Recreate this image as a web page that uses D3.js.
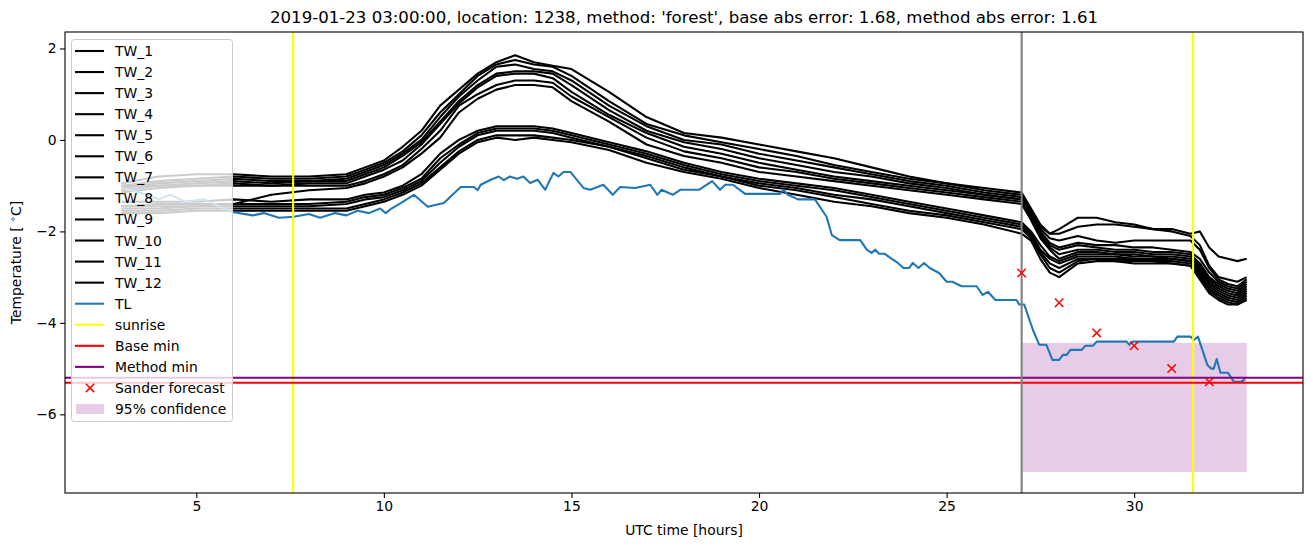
<!DOCTYPE html>
<html>
<head>
<meta charset="utf-8">
<script src="https://cdn.jsdelivr.net/npm/d3@7"></script>
<style>
  body { margin: 0; background: #fff; }
  text { font-family: "DejaVu Sans", sans-serif; }
</style>
</head>
<body>
<svg id="chart" width="1313" height="547"></svg>
<script>
// ---- data ----
var twTime = [3,4,5,6,7,8,9,9.5,10,10.5,11,11.5,12,12.5,13,13.5,14,14.5,15,16,17,18,19,20,21,22,23,24,25,26,27,
  27.25,27.5,27.75,28,28.5,29,29.5,30,30.5,31,31.5,31.75,32,32.25,32.5,32.75,33];

var TW_1 = [-0.95,-0.8,-0.75,-0.75,-0.8,-0.8,-0.75,-0.6,-0.45,-0.15,0.2,0.75,1.1,1.45,1.7,1.85,1.7,1.62,1.55,1.05,0.5,0.15,0.05,-0.1,-0.25,-0.4,-0.6,-0.8,-0.95,-1.05,-1.15,
  -1.5,-1.85,-2.05,-1.95,-1.7,-1.7,-1.8,-1.85,-1.95,-1.95,-2.05,-2.0,-2.35,-2.55,-2.6,-2.65,-2.6];
var TW_2 = [-1.0,-0.9,-0.85,-0.8,-0.85,-0.85,-0.8,-0.65,-0.5,-0.25,0.1,0.6,1.0,1.4,1.65,1.75,1.65,1.6,1.4,0.85,0.35,0.1,-0.05,-0.2,-0.35,-0.55,-0.7,-0.85,-0.95,-1.1,-1.2,
  -1.55,-1.9,-2.05,-2.05,-1.9,-1.85,-1.85,-1.9,-1.95,-2.0,-2.1,-2.3,-2.75,-3.0,-3.05,-3.1,-3.0];
var TW_3 = [-1.05,-0.95,-0.9,-0.85,-0.9,-0.9,-0.85,-0.7,-0.55,-0.3,0.0,0.5,0.95,1.3,1.6,1.65,1.55,1.5,1.3,0.75,0.3,0.0,-0.1,-0.3,-0.45,-0.6,-0.75,-0.9,-1.0,-1.15,-1.25,
  -1.6,-1.95,-2.15,-2.2,-2.1,-2.2,-2.25,-2.2,-2.2,-2.2,-2.2,-2.4,-2.8,-3.05,-3.15,-3.2,-3.05];
var TW_4 = [-1.1,-1.0,-0.95,-0.9,-0.95,-0.9,-0.9,-0.75,-0.6,-0.35,-0.05,0.4,0.85,1.2,1.45,1.5,1.5,1.45,1.2,0.65,0.2,-0.05,-0.2,-0.4,-0.55,-0.7,-0.8,-0.95,-1.05,-1.2,-1.3,
  -1.6,-2.0,-2.25,-2.35,-2.25,-2.3,-2.3,-2.35,-2.35,-2.4,-2.45,-2.6,-2.9,-3.1,-3.2,-3.25,-3.1];
var TW_5 = [-1.0,-1.0,-1.0,-0.95,-1.0,-0.95,-0.95,-0.8,-0.65,-0.45,-0.1,0.35,0.8,1.15,1.4,1.45,1.45,1.35,1.05,0.55,0.15,-0.15,-0.3,-0.5,-0.65,-0.8,-0.9,-1.0,-1.1,-1.2,-1.3,
  -1.65,-2.05,-2.3,-2.4,-2.3,-2.35,-2.4,-2.4,-2.45,-2.45,-2.5,-2.7,-3.0,-3.15,-3.25,-3.3,-3.15];
var TW_6 = [-1.15,-1.05,-1.0,-1.0,-1.0,-1.0,-1.0,-0.9,-0.75,-0.55,-0.2,0.2,0.75,1.0,1.2,1.3,1.3,1.25,0.95,0.5,0.05,-0.25,-0.4,-0.6,-0.7,-0.85,-0.95,-1.05,-1.15,-1.25,-1.35,
  -1.7,-2.1,-2.35,-2.5,-2.4,-2.4,-2.45,-2.45,-2.5,-2.5,-2.55,-2.75,-3.05,-3.2,-3.3,-3.35,-3.2];
var TW_7 = [-1.45,-1.45,-1.45,-1.4,-1.2,-1.1,-1.05,-0.95,-0.8,-0.6,-0.3,0.05,0.6,0.9,1.1,1.2,1.2,1.15,0.85,0.4,-0.1,-0.35,-0.5,-0.7,-0.8,-0.9,-1.0,-1.1,-1.2,-1.3,-1.4,
  -1.75,-2.15,-2.4,-2.6,-2.45,-2.45,-2.5,-2.5,-2.55,-2.55,-2.6,-2.8,-3.1,-3.25,-3.35,-3.4,-3.25];
var TW_8 = [-1.35,-1.35,-1.35,-1.3,-1.35,-1.3,-1.3,-1.2,-1.15,-1.0,-0.75,-0.3,0.0,0.2,0.3,0.3,0.3,0.25,0.15,-0.05,-0.25,-0.5,-0.7,-0.85,-0.95,-1.05,-1.2,-1.35,-1.5,-1.65,-1.8,
  -2.0,-2.3,-2.55,-2.65,-2.5,-2.5,-2.5,-2.55,-2.55,-2.6,-2.65,-2.85,-3.15,-3.3,-3.4,-3.45,-3.3];
var TW_9 = [-1.45,-1.4,-1.4,-1.4,-1.4,-1.4,-1.35,-1.25,-1.2,-1.05,-0.85,-0.4,-0.1,0.15,0.25,0.25,0.25,0.2,0.1,-0.1,-0.3,-0.55,-0.75,-0.9,-1.0,-1.1,-1.25,-1.4,-1.55,-1.7,-1.85,
  -2.05,-2.4,-2.6,-2.7,-2.55,-2.55,-2.55,-2.6,-2.6,-2.6,-2.65,-2.9,-3.2,-3.35,-3.45,-3.5,-3.35];
var TW_10 = [-1.5,-1.5,-1.45,-1.45,-1.45,-1.45,-1.4,-1.3,-1.25,-1.1,-0.9,-0.5,-0.15,0.1,0.2,0.2,0.2,0.15,0.05,-0.15,-0.35,-0.6,-0.8,-0.95,-1.05,-1.2,-1.3,-1.45,-1.6,-1.75,-1.9,
  -2.1,-2.45,-2.7,-2.8,-2.6,-2.6,-2.6,-2.6,-2.65,-2.65,-2.7,-2.95,-3.25,-3.4,-3.5,-3.55,-3.4];
var TW_11 = [-1.55,-1.55,-1.5,-1.5,-1.5,-1.5,-1.5,-1.4,-1.3,-1.15,-0.95,-0.6,-0.25,0.0,0.1,0.1,0.1,0.05,0.0,-0.15,-0.4,-0.65,-0.8,-1.0,-1.1,-1.25,-1.4,-1.55,-1.65,-1.8,-1.95,
  -2.15,-2.5,-2.8,-2.9,-2.65,-2.6,-2.65,-2.65,-2.65,-2.7,-2.75,-3.0,-3.3,-3.45,-3.55,-3.6,-3.45];
var TW_12 = [-1.6,-1.6,-1.55,-1.55,-1.55,-1.55,-1.55,-1.45,-1.35,-1.2,-1.0,-0.65,-0.3,-0.05,0.05,0.0,0.05,0.0,-0.05,-0.22,-0.5,-0.7,-0.85,-1.05,-1.2,-1.35,-1.45,-1.6,-1.7,-1.85,-2.05,
  -2.2,-2.6,-2.9,-3.0,-2.7,-2.65,-2.65,-2.7,-2.7,-2.7,-2.75,-3.05,-3.35,-3.5,-3.6,-3.6,-3.5];

var twNames = ['TW_1','TW_2','TW_3','TW_4','TW_5','TW_6','TW_7','TW_8','TW_9','TW_10','TW_11','TW_12'];
var twValues = [TW_1,TW_2,TW_3,TW_4,TW_5,TW_6,TW_7,TW_8,TW_9,TW_10,TW_11,TW_12];

var tlTime = [3,3.5,4,4.3,4.7,5.2,5.6,6,6.5,6.8,7.2,7.6,8,8.3,8.7,9,9.3,9.6,9.9,10.05,10.2,10.45,10.8,11.17,11.6,11.83,12.05,12.4,12.5,12.58,12.85,
  13.06,13.2,13.35,13.55,13.72,13.9,14.1,14.3,14.52,14.65,14.79,14.97,15.32,15.5,15.85,16.1,16.3,16.7,17.1,17.29,17.4,17.7,17.9,18.1,18.4,18.75,18.96,
  19.1,19.3,19.63,20.56,20.65,20.77,21.04,21.49,21.8,21.94,22.15,22.7,22.87,23.0,23.1,23.2,23.35,23.5,23.7,23.85,24.0,24.1,24.25,24.4,24.55,24.8,
  25.0,25.15,25.4,25.8,25.96,26.1,26.3,26.86,26.94,27.07,27.3,27.47,27.66,27.82,28.0,28.1,28.2,28.3,28.6,28.7,28.9,29.0,29.8,29.87,29.95,31.06,
  31.15,31.5,31.6,31.7,31.95,32.05,32.12,32.2,32.3,32.5,32.66,32.85,32.95];
var tlTemp = [-1.05,-1.15,-1.3,-1.2,-1.35,-1.3,-1.45,-1.58,-1.65,-1.6,-1.7,-1.68,-1.62,-1.7,-1.6,-1.65,-1.55,-1.6,-1.5,-1.6,-1.5,-1.38,-1.2,-1.46,-1.38,-1.2,-1.03,-1.03,-1.1,-0.98,-0.87,
  -0.8,-0.88,-0.8,-0.85,-0.8,-0.94,-0.87,-1.09,-0.72,-0.8,-0.7,-0.7,-1.05,-1.09,-0.98,-1.2,-1.03,-1.05,-0.98,-1.2,-1.09,-1.2,-1.09,-1.09,-1.09,-0.9,-1.09,
  -0.98,-0.98,-1.18,-1.18,-1.09,-1.2,-1.3,-1.3,-1.68,-2.08,-2.19,-2.19,-2.4,-2.47,-2.4,-2.49,-2.49,-2.58,-2.69,-2.8,-2.8,-2.69,-2.8,-2.69,-2.8,-2.91,
  -3.1,-3.1,-3.2,-3.2,-3.39,-3.32,-3.5,-3.5,-3.6,-3.6,-4.15,-4.48,-4.48,-4.81,-4.81,-4.7,-4.7,-4.59,-4.59,-4.5,-4.5,-4.41,-4.41,-4.48,-4.41,-4.41,
  -4.3,-4.3,-4.37,-4.3,-4.92,-5.0,-5.0,-4.79,-5.09,-5.09,-5.29,-5.29,-5.23];

var sunrise = [7.58, 31.57];
var forecastStart = 27;
var baseMin = -5.31;
var methodMin = -5.2;
var sanderTime = [27, 28, 29, 30, 31, 32];
var sanderTemp = [-2.91, -3.56, -4.22, -4.5, -5.0, -5.29];
var confTime = [27, 33];
var confLow = -7.26;
var confHigh = -4.44;

var xTicks = [5, 10, 15, 20, 25, 30];
var yTicks = [-6, -4, -2, 0, 2];

// ---- layout ----
var L = 65, R = 1303, T = 32, B = 493;
var LW = 2.08; // 1.5pt at 100 dpi
var svg = d3.select('#chart');

var xScale = d3.scaleLinear().domain([1.5, 34.5]).range([L, R]);
var yScale = d3.scaleLinear().domain([-7.72, 2.36]).range([B, T]);

svg.append('defs').append('clipPath').attr('id', 'clip')
  .append('rect').attr('x', L).attr('y', T).attr('width', R - L).attr('height', B - T);

var plot = svg.append('g').attr('clip-path', 'url(#clip)');

// confidence band
plot.append('rect')
  .attr('x', xScale(confTime[0]))
  .attr('width', xScale(confTime[1]) - xScale(confTime[0]))
  .attr('y', yScale(confHigh))
  .attr('height', yScale(confLow) - yScale(confHigh))
  .attr('fill', 'purple').attr('fill-opacity', 0.2);

var twLine = d3.line()
  .x(function(d, i){ return xScale(twTime[i]); })
  .y(function(d){ return yScale(d); });

twValues.forEach(function(vals){
  plot.append('path').datum(vals)
    .attr('d', twLine)
    .attr('fill', 'none').attr('stroke', 'black').attr('stroke-width', LW)
    .attr('stroke-linejoin', 'round');
});

var tlLine = d3.line()
  .x(function(d, i){ return xScale(tlTime[i]); })
  .y(function(d){ return yScale(d); });

plot.append('path').datum(tlTemp)
  .attr('d', tlLine)
  .attr('fill', 'none').attr('stroke', '#1f77b4').attr('stroke-width', LW)
  .attr('stroke-linejoin', 'round');

sunrise.forEach(function(s){
  plot.append('line')
    .attr('x1', xScale(s)).attr('x2', xScale(s)).attr('y1', T).attr('y2', B)
    .attr('stroke', 'yellow').attr('stroke-width', LW);
});

plot.append('line')
  .attr('x1', L).attr('x2', R).attr('y1', yScale(baseMin)).attr('y2', yScale(baseMin))
  .attr('stroke', 'red').attr('stroke-width', LW);
plot.append('line')
  .attr('x1', L).attr('x2', R).attr('y1', yScale(methodMin)).attr('y2', yScale(methodMin))
  .attr('stroke', 'purple').attr('stroke-width', LW);

plot.append('line')
  .attr('x1', xScale(forecastStart)).attr('x2', xScale(forecastStart)).attr('y1', T).attr('y2', B)
  .attr('stroke', 'gray').attr('stroke-width', LW);

function cross(g, cx, cy, r) {
  g.append('path')
    .attr('d', 'M' + (cx - r) + ',' + (cy - r) + 'L' + (cx + r) + ',' + (cy + r) +
               'M' + (cx - r) + ',' + (cy + r) + 'L' + (cx + r) + ',' + (cy - r))
    .attr('stroke', 'red').attr('stroke-width', 1.5).attr('fill', 'none');
}
sanderTime.forEach(function(t, i){
  cross(plot, xScale(t), yScale(sanderTemp[i]), 4.2);
});

// ---- axes ----
var xAxis = d3.axisBottom(xScale).tickValues(xTicks).tickSize(4.9).tickPadding(3.5).tickFormat(d3.format('d'));
var yAxis = d3.axisLeft(yScale).tickValues(yTicks).tickSize(4.9).tickPadding(3.5).tickFormat(d3.format('d'));

var gx = svg.append('g').attr('transform', 'translate(0,' + B + ')').call(xAxis);
var gy = svg.append('g').attr('transform', 'translate(' + L + ',0)').call(yAxis);
[gx, gy].forEach(function(g){
  g.select('.domain').remove();
  g.selectAll('text').attr('font-size', '13.9px').attr('fill', '#000').style('font-family', '"DejaVu Sans", sans-serif');
  g.selectAll('line').attr('stroke', '#000').attr('stroke-width', 1.1);
});

svg.append('rect').attr('x', L).attr('y', T).attr('width', R - L).attr('height', B - T)
  .attr('fill', 'none').attr('stroke', '#000').attr('stroke-width', 1.1);

svg.append('text').attr('x', (L + R) / 2).attr('y', 23).attr('text-anchor', 'middle')
  .attr('font-size', '16.6px')
  .text("2019-01-23 03:00:00, location: 1238, method: 'forest', base abs error: 1.68, method abs error: 1.61");

svg.append('text').attr('x', (L + R) / 2).attr('y', 535).attr('text-anchor', 'middle')
  .attr('font-size', '13.9px').text('UTC time [hours]');

var yl = svg.append('text').attr('transform', 'translate(21,' + ((T + B) / 2) + ') rotate(-90)')
  .attr('text-anchor', 'middle').attr('font-size', '13.9px');
yl.append('tspan').text('Temperature [ ');
yl.append('tspan').attr('dy', -5).attr('font-size', '9.5px').text('\u2218');
yl.append('tspan').attr('dy', 5).text('C]');

// ---- legend ----
var legendItems = twNames.map(function(n){ return {label: n, kind: 'line', color: 'black'}; });
legendItems.push({label: 'TL', kind: 'line', color: '#1f77b4'});
legendItems.push({label: 'sunrise', kind: 'line', color: 'yellow'});
legendItems.push({label: 'Base min', kind: 'line', color: 'red'});
legendItems.push({label: 'Method min', kind: 'line', color: 'purple'});
legendItems.push({label: 'Sander forecast', kind: 'cross', color: 'red'});
legendItems.push({label: '95% confidence', kind: 'patch', color: 'purple'});

var lg = svg.append('g');
lg.append('rect').attr('x', 71.5).attr('y', 39.5).attr('width', 161).attr('height', 382).attr('rx', 3)
  .attr('fill', 'white').attr('fill-opacity', 0.8).attr('stroke', '#cccccc');

var rowY = d3.scaleLinear().domain([0, legendItems.length - 1]).range([51, 409]);
legendItems.forEach(function(it, i){
  var y = rowY(i);
  if (it.kind === 'line') {
    lg.append('line').attr('x1', 75).attr('x2', 104).attr('y1', y).attr('y2', y)
      .attr('stroke', it.color).attr('stroke-width', LW);
  } else if (it.kind === 'cross') {
    cross(lg, 90, y, 4.2);
  } else {
    lg.append('rect').attr('x', 76).attr('y', y - 5).attr('width', 28).attr('height', 10)
      .attr('fill', it.color).attr('fill-opacity', 0.2);
  }
  lg.append('text').attr('x', 115).attr('y', y + 5).attr('font-size', '13.9px').text(it.label);
});
</script>
</body>
</html>
